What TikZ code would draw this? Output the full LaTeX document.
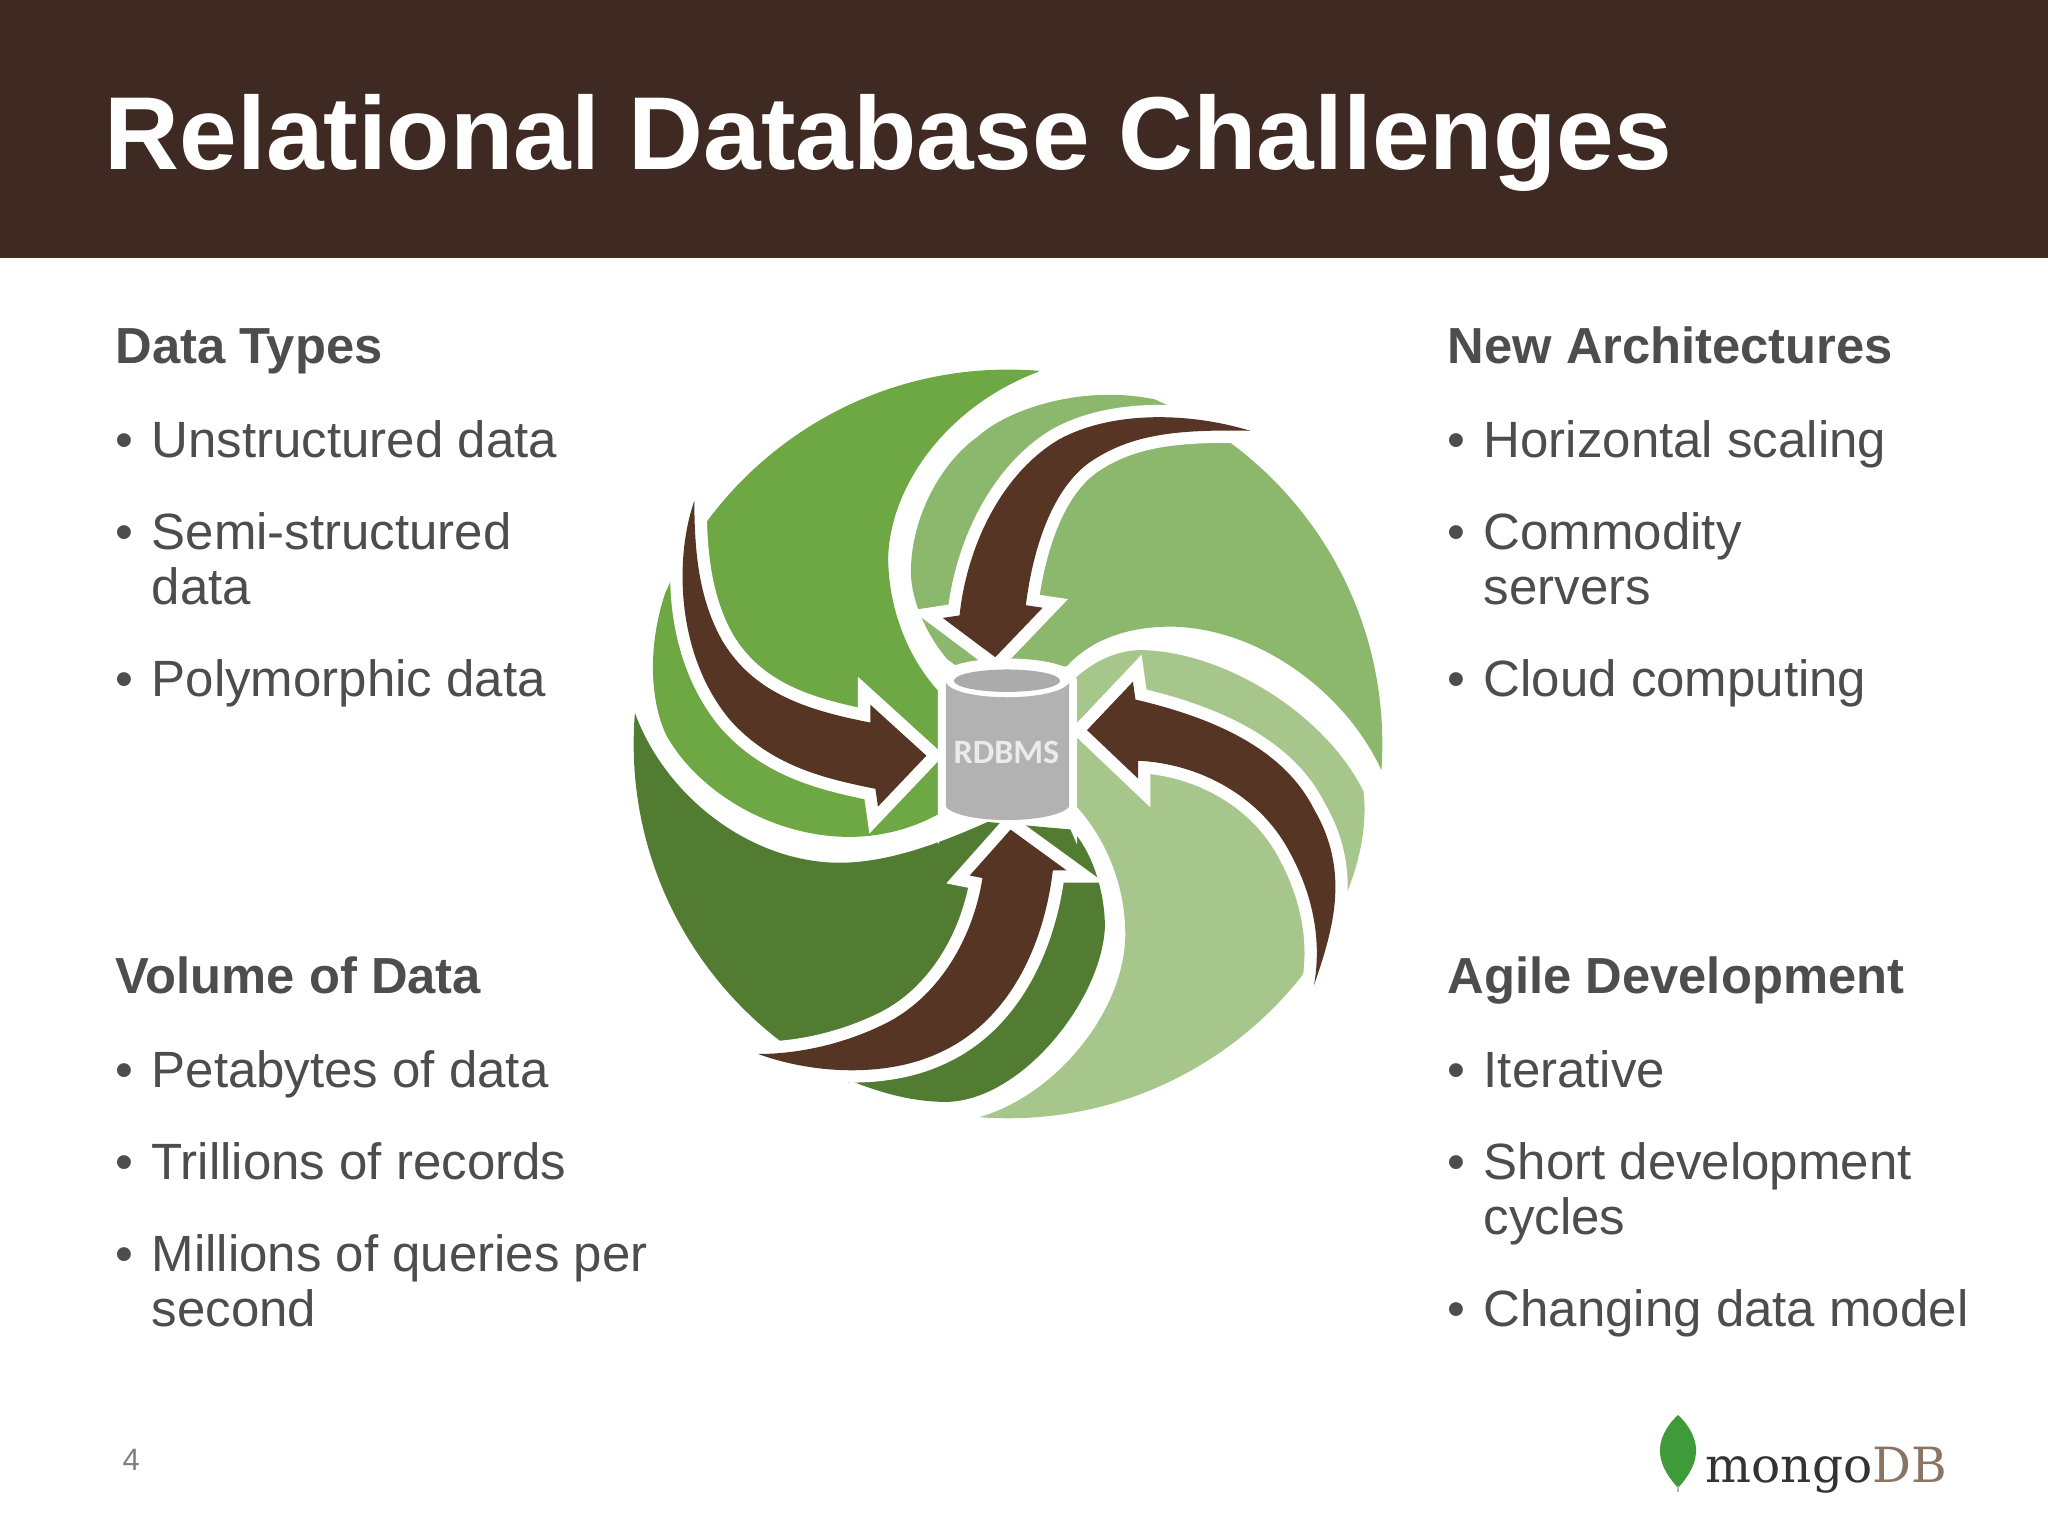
\documentclass[tikz,border=0pt]{standalone}
\usepackage{fontspec}
\setmainfont{Liberation Sans}
\newfontfamily\cylfont{Carlito}
\newfontfamily\logofont{DejaVu Serif}
\definecolor{hdr}{HTML}{3E2A23}
\definecolor{txt}{HTML}{4D4D4F}
\definecolor{bladeA}{HTML}{6EA845}
\definecolor{bladeB}{HTML}{8CB86E}
\definecolor{bladeC}{HTML}{A7C68C}
\definecolor{bladeD}{HTML}{527C32}
\definecolor{arrowbrown}{HTML}{563525}
\definecolor{leafgreen}{HTML}{3F9A3A}
\tikzset{
  hd/.style={anchor=base west,inner sep=0pt,text=txt,font=\fontsize{14.42pt}{16pt}\selectfont\bfseries},
  bd/.style={anchor=base west,inner sep=0pt,text=txt,font=\fontsize{14.5pt}{16pt}\selectfont},
  halo/.style={draw=white,line width=7pt,line join=miter,miter limit=8},
  brownfill/.style={fill=arrowbrown},
}
\newcommand{\arrA}{(185,315) .. controls (145,430) and (150,620) .. (255,745) .. controls (335,835) and (440,860) .. (540,880) -- (545,915) -- (640,815) -- (530,715) -- (530,750) .. controls (400,725) and (300,690) .. (240,590) .. controls (195,510) and (185,420) .. (185,315) -- cycle}
\newcommand{\arrB}{(1275,178) .. controls (1150,140) and (1000,140) .. (900,195) .. controls (790,260) and (720,400) .. (705,540) -- (672,545) -- (775,622) -- (868,525) -- (835,520) .. controls (850,400) and (890,290) .. (960,240) .. controls (1040,185) and (1130,175) .. (1275,178) -- cycle}
\newcommand{\arrC}{(1400,1265) .. controls (1440,1150) and (1470,1040) .. (1400,920) .. controls (1340,800) and (1200,740) .. (1050,705) -- (1045,670) -- (955,765) -- (1055,860) -- (1055,825) .. controls (1170,830) and (1290,890) .. (1350,1000) .. controls (1400,1090) and (1415,1180) .. (1400,1265) -- cycle}
\newcommand{\arrD}{(310,1400) .. controls (390,1400) and (480,1380) .. (560,1340) .. controls (660,1290) and (730,1180) .. (750,1055) -- (725,1050) -- (805,960) -- (915,1040) -- (888,1040) .. controls (870,1190) and (800,1340) .. (660,1400) .. controls (560,1445) and (420,1440) .. (310,1400) -- cycle}
\begin{document}
\begin{tikzpicture}[x=0.01cm,y=-0.01cm]
\useasboundingbox (0,0) rectangle (2048,1536);
\fill[white] (0,0) rectangle (2048,1536);
\fill[hdr] (0,0) rectangle (2048,258);
\node[anchor=base west,inner sep=0pt,text=white,font=\fontsize{29.48pt}{34pt}\selectfont\bfseries] (title) at (104,169) {Relational Database Challenges};
% left top
\node[hd] (h1) at (115,363) {Data Types};
\node[bd] (b11) at (115,457) {•}; \node[bd] (t11) at (151,457) {Unstructured data};
\node[bd] (b12) at (115,549) {•}; \node[bd] (t12) at (151,549) {Semi-structured};
\node[bd] (t12b) at (151,604) {data};
\node[bd] (b13) at (115,696) {•}; \node[bd] (t13) at (151,696) {Polymorphic data};
% right top
\node[hd] (h2) at (1447,363) {New Architectures};
\node[bd] (b21) at (1447,457) {•}; \node[bd] (t21) at (1483,457) {Horizontal scaling};
\node[bd] (b22) at (1447,549) {•}; \node[bd] (t22) at (1483,549) {Commodity};
\node[bd] (t22b) at (1483,604) {servers};
\node[bd] (b23) at (1447,696) {•}; \node[bd] (t23) at (1483,696) {Cloud computing};
% left bottom
\node[hd] (h3) at (115,993) {Volume of Data};
\node[bd] (b31) at (115,1087) {•}; \node[bd] (t31) at (151,1087) {Petabytes of data};
\node[bd] (b32) at (115,1179) {•}; \node[bd] (t32) at (151,1179) {Trillions of records};
\node[bd] (b33) at (115,1271) {•}; \node[bd] (t33) at (151,1271) {Millions of queries per};
\node[bd] (t33b) at (151,1326) {second};
% right bottom
\node[hd] (h4) at (1447,993) {Agile Development};
\node[bd] (b41) at (1447,1087) {•}; \node[bd] (t41) at (1483,1087) {Iterative};
\node[bd] (b42) at (1447,1179) {•}; \node[bd] (t42) at (1483,1179) {Short development};
\node[bd] (t42b) at (1483,1234) {cycles};
\node[bd] (b43) at (1447,1326) {•}; \node[bd] (t43) at (1483,1326) {Changing data model};
% page number
\node[anchor=base west,inner sep=0pt,text=black!50,font=\fontsize{8.8pt}{10pt}\selectfont] (pg) at (122,1470) {4};
% swirl
\begin{scope}[shift={(600,340)},scale=0.51]
 \begin{scope}
  \clip (800,792) circle[radius=734];
  % blade A
  \fill[bladeA] (860,62) -- (860,0) -- (100,0) -- (50,480) -- (130,490) .. controls (95,590) and (95,700) .. (130,775) .. controls (200,900) and (370,990) .. (530,972) .. controls (590,965) and (640,945) .. (680,920) -- (700,700) -- (665,690) .. controls (600,620) and (565,520) .. (565,425) .. controls (570,285) and (680,130) .. (860,62) -- cycle;
  % blade B
  \fill[bladeB] (1095,118) -- (1300,0) -- (1600,400) -- (1600,850) -- (1535,850) .. controls (1470,700) and (1300,565) .. (1120,562) .. controls (1030,562) and (960,590) .. (915,640) -- (700,640) -- (680,625) .. controls (630,565) and (605,490) .. (610,440) .. controls (615,340) and (670,240) .. (740,190) .. controls (800,135) and (950,85) .. (1095,118) -- cycle;
  % blade C
  \fill[bladeC] (925,670) .. controls (965,630) and (1015,608) .. (1060,608) .. controls (1220,610) and (1420,730) .. (1497,885) .. controls (1505,950) and (1490,1030) .. (1455,1105) -- (1600,1105) -- (1600,1600) -- (700,1600) -- (740,1525) .. controls (900,1480) and (1030,1310) .. (1030,1165) .. controls (1030,1060) and (985,965) .. (925,905) -- cycle;
  % blade D
  \fill[bladeD] (68,730) .. controls (130,900) and (300,1025) .. (470,1025) .. controls (560,1025) and (660,990) .. (760,945) -- (925,960) .. controls (970,1010) and (990,1090) .. (990,1150) .. controls (985,1290) and (830,1490) .. (680,1494) .. controls (620,1494) and (560,1480) .. (490,1452) -- (450,1600) -- (0,1500) -- (0,740) -- cycle;
 \end{scope}
 % arrows
 \path[halo] \arrA; \fill[brownfill] \arrA;
 \path[halo] \arrB; \fill[brownfill] \arrB;
 \path[halo] \arrC; \fill[brownfill] \arrC;
 \path[halo] \arrD; \fill[brownfill] \arrD;
 % cylinder
 \path[draw=white,line width=4.5pt,fill=white] (678,670) arc[start angle=180,end angle=360,x radius=121,y radius=30] -- (920,915) arc[start angle=360,end angle=180,x radius=121,y radius=28] -- cycle;
 \fill[white] (798,670) ellipse[x radius=121,y radius=32];
 \fill[black!30] (678,672) .. controls (700,710) and (896,710) .. (920,672) -- (920,915) .. controls (890,950) and (706,950) .. (678,915) -- cycle;
 \fill[black!33] (798,668) ellipse[x radius=104,y radius=22];
 \node[inner sep=0pt,text=white!92!black,font=\fontsize{9.7pt}{11pt}\selectfont\cylfont\bfseries] (rdbms) at (797,808) {RDBMS};
\end{scope}
% logo
\fill[leafgreen] (1678,1415) .. controls (1690,1426) and (1697,1440) .. (1696,1453) .. controls (1695,1467) and (1686,1479) .. (1678,1488) .. controls (1670,1479) and (1661,1467) .. (1660,1453) .. controls (1659,1440) and (1666,1426) .. (1678,1415) -- cycle;
\draw[black!30,line width=0.5pt] (1678,1486) -- (1678,1492);
\node[anchor=base west,inner sep=0pt,font=\fontsize{13.8pt}{16pt}\selectfont\logofont] (logo) at (1705,1482) {\textcolor{black!80}{mongo}\textcolor[HTML]{8A7565}{DB}};
\end{tikzpicture}
\end{document}
